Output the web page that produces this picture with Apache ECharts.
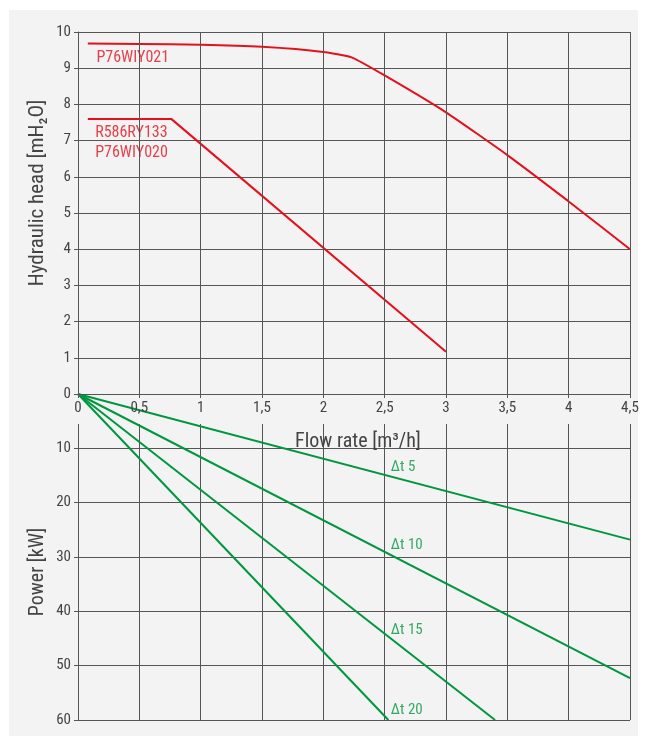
<!DOCTYPE html>
<html><head><meta charset="utf-8">
<script src="https://cdn.jsdelivr.net/npm/echarts@6/dist/echarts.min.js"></script>
<style>html,body{margin:0;padding:0;background:#fff}#c{width:647px;height:737px}</style>
</head><body><div id="c"></div>
<script>
// ---- data ----
const flowTicks = [0, 0.5, 1, 1.5, 2, 2.5, 3, 3.5, 4, 4.5];
const headTicks = [0, 1, 2, 3, 4, 5, 6, 7, 8, 9, 10];
const powerTicks = [0, 10, 20, 30, 40, 50, 60];

const curveP76WIY021 = [[0.08, 9.68], [0.5, 9.67], [1, 9.65], [1.5, 9.59], [2, 9.45], [2.23, 9.3], [2.5, 8.8], [3, 7.78], [3.5, 6.6], [4, 5.32], [4.5, 4.0]];
const curveR586RY133 = [[0.08, 7.6], [0.76, 7.6], [3.0, 1.17]];
const redNames = ['P76WIY021', 'R586RY133\nP76WIY020'];

const dt5 = [[0, 0], [4.5, 26.8]];
const dt10 = [[0, 0], [4.5, 52.3]];
const dt15 = [[0, 0], [3.40, 60]];
const dt20 = [[0, 0], [2.53, 60]];
const greenNames = ['Δt 5', 'Δt 10', 'Δt 15', 'Δt 20'];

// ---- styling ----
const RED = '#e3101e', GREEN = '#00963f', GRIDC = '#555555', TXT = '#444444', BG = '#f3f3f3';
const FONT = "'Roboto Condensed','Liberation Sans Narrow','DejaVu Sans Condensed',Roboto,sans-serif";
const comma = v => String(v).replace('.', ',');

const chart = echarts.init(document.getElementById('c'));
const lineStyle = { color: GRIDC, width: 1 };

chart.setOption({
  backgroundColor: '#ffffff',
  animation: false,
  textStyle: { fontFamily: FONT },
  grid: [
    { left: 78, top: 32, width: 552, height: 362 },
    { left: 78, top: 394, width: 552, height: 326 }
  ],
  xAxis: [
    {
      gridIndex: 0, type: 'value', min: flowTicks[0], max: flowTicks[flowTicks.length - 1], interval: 0.5, z: 5,
      axisLine: { show: true, lineStyle }, axisTick: { show: true, length: 4, lineStyle },
      splitLine: { show: true, lineStyle },
      axisLabel: { color: TXT, fontSize: 15, fontFamily: FONT, margin: 7, formatter: comma, showMaxLabel: true, showMinLabel: true },
      name: 'Flow rate [m³/h]', nameLocation: 'middle', nameGap: 38,
      nameTextStyle: { color: TXT, fontSize: 20, fontFamily: FONT, padding: [0, 0, 0, 8] }
    },
    {
      gridIndex: 1, type: 'value', min: flowTicks[0], max: flowTicks[flowTicks.length - 1], interval: 0.5,
      axisLine: { show: false }, axisTick: { show: false }, axisLabel: { show: false },
      splitLine: { show: true, lineStyle }
    }
  ],
  yAxis: [
    {
      gridIndex: 0, type: 'value', min: headTicks[0], max: headTicks[headTicks.length - 1], interval: 1,
      axisLine: { show: true, lineStyle }, axisTick: { show: true, length: 4, lineStyle },
      splitLine: { show: true, lineStyle },
      axisLabel: { color: TXT, fontSize: 15, fontFamily: FONT, margin: 7 }
    },
    {
      gridIndex: 1, type: 'value', inverse: true, min: powerTicks[0], max: powerTicks[powerTicks.length - 1], interval: 10,
      axisLine: { show: true, lineStyle }, axisTick: { show: true, length: 4, lineStyle },
      splitLine: { show: true, lineStyle },
      axisLabel: { color: TXT, fontSize: 15, fontFamily: FONT, margin: 7, formatter: v => v === 0 ? '' : String(v) }
    }
  ],
  graphic: [
    { type: 'rect', z: -10, shape: { x: 9, y: 10, width: 629, height: 726 }, style: { fill: BG } },
    { type: 'rect', z: 1, shape: { x: 73.5, y: 395, width: 560, height: 29 }, style: { fill: BG } },
    { type: 'text', z: 5, x: 38, y: 193, rotation: Math.PI / 2,
      style: { text: 'Hydraulic head [mH₂O]', fill: TXT, font: "21px " + FONT, align: 'center', verticalAlign: 'middle' } },
    { type: 'text', z: 5, x: 38, y: 572, rotation: Math.PI / 2,
      style: { text: 'Power [kW]', fill: TXT, font: "20px " + FONT, align: 'center', verticalAlign: 'middle' } }
  ],
  series: [
    { type: 'line', xAxisIndex: 0, yAxisIndex: 0, data: curveP76WIY021, smooth: 0.15, symbol: 'none', lineStyle: { color: RED, width: 2 }, z: 3 },
    { type: 'line', xAxisIndex: 0, yAxisIndex: 0, data: curveR586RY133, symbol: 'none', lineStyle: { color: RED, width: 2 }, z: 3 },
    {
      type: 'scatter', xAxisIndex: 0, yAxisIndex: 0, symbolSize: 0, z: 4,
      data: [
        { value: [0.15, 9.29], name: redNames[0] },
        { value: [0.14, 6.94], name: redNames[1] }
      ],
      label: { show: true, position: 'right', distance: 0, formatter: p => p.name, color: RED, fontSize: 16, lineHeight: 20, fontFamily: FONT }
    },
    { type: 'line', xAxisIndex: 1, yAxisIndex: 1, data: dt5, symbol: 'none', lineStyle: { color: GREEN, width: 2 }, z: 3 },
    { type: 'line', xAxisIndex: 1, yAxisIndex: 1, data: dt10, symbol: 'none', lineStyle: { color: GREEN, width: 2 }, z: 3 },
    { type: 'line', xAxisIndex: 1, yAxisIndex: 1, data: dt15, symbol: 'none', lineStyle: { color: GREEN, width: 2 }, z: 3 },
    { type: 'line', xAxisIndex: 1, yAxisIndex: 1, data: dt20, symbol: 'none', lineStyle: { color: GREEN, width: 2 }, z: 3 },
    {
      type: 'scatter', xAxisIndex: 1, yAxisIndex: 1, symbolSize: 0, z: 4,
      data: [
        { value: [2.55, 13.5], name: greenNames[0] },
        { value: [2.55, 27.8], name: greenNames[1] },
        { value: [2.55, 43.5], name: greenNames[2] },
        { value: [2.55, 58.2], name: greenNames[3] }
      ],
      label: { show: true, position: 'right', distance: 0, formatter: p => p.name, color: GREEN, fontSize: 15, fontFamily: FONT }
    }
  ]
});
</script></body></html>
